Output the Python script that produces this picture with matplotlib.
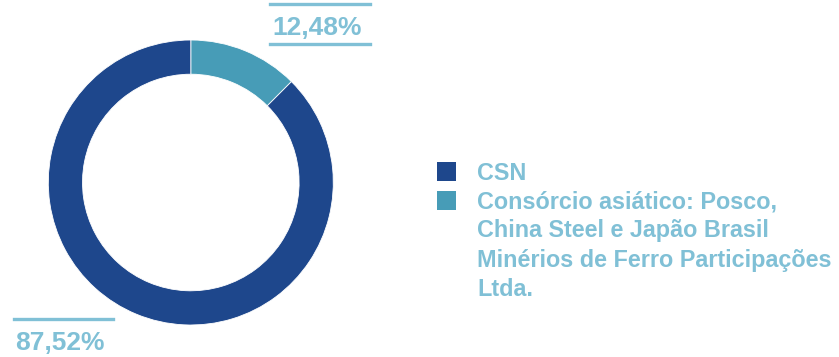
import matplotlib
matplotlib.use("Agg")
import matplotlib.pyplot as plt
from matplotlib.lines import Line2D
from matplotlib.patches import Rectangle

labels = ["Consórcio asiático: Posco,\nChina Steel e Japão Brasil\nMinérios de Ferro Participações\nLtda.", "CSN"]
values = [12.48, 87.52]
colors = ["#479cb7", "#1e478c"]
value_labels = ["12,48%", "87,52%"]
text_color = "#80c0d6"

W, H = 839, 357
fig = plt.figure(figsize=(W / 100, H / 100), dpi=100)
plt.rcParams['font.family'] = ['Liberation Sans', 'DejaVu Sans']

def fx(px):
    return px / W

def fy(py):
    return 1 - py / H

cx, cy, r = 190.8, 182.5, 142.5
ax = fig.add_axes([fx(cx - r), fy(cy + r), 2 * r / W, 2 * r / H])
ax.pie(values, colors=colors, startangle=90, counterclock=False, radius=1,
       wedgeprops=dict(width=0.24, edgecolor="white", linewidth=0.6))
ax.set_xlim(-1, 1)
ax.set_ylim(-1, 1)
ax.set_aspect("auto")
ax.axis("off")

# value labels with rules
lw = 2.4
fig.add_artist(Line2D([fx(270), fx(370)], [fy(4), fy(4)], color=text_color, lw=lw))
fig.add_artist(Line2D([fx(270), fx(370)], [fy(44.3), fy(44.3)], color=text_color, lw=lw))
fig.text(fx(272), fy(35), value_labels[0], color=text_color, fontsize=19,
         fontweight="bold", ha="left", va="baseline")
fig.add_artist(Line2D([fx(14), fx(113)], [fy(319), fy(319)], color=text_color, lw=lw))
fig.text(fx(15), fy(350), value_labels[1], color=text_color, fontsize=19,
         fontweight="bold", ha="left", va="baseline")

# legend
legend_order = [1, 0]
sq = 19
tops = [162, 190.5]
baselines = [180, 208]
for k, i in enumerate(legend_order):
    fig.add_artist(Rectangle((fx(437), fy(tops[k] + sq)), sq / W, sq / H,
                             transform=fig.transFigure, color=colors[i], lw=0))
    lines = labels[i].split("\n")
    for j, line in enumerate(lines):
        fig.text(fx(477), fy(baselines[k] + 29.3 * j), line, color=text_color,
                 fontsize=16.8, fontweight="bold", ha="left", va="baseline")

fig.savefig("out.png", dpi=100)
